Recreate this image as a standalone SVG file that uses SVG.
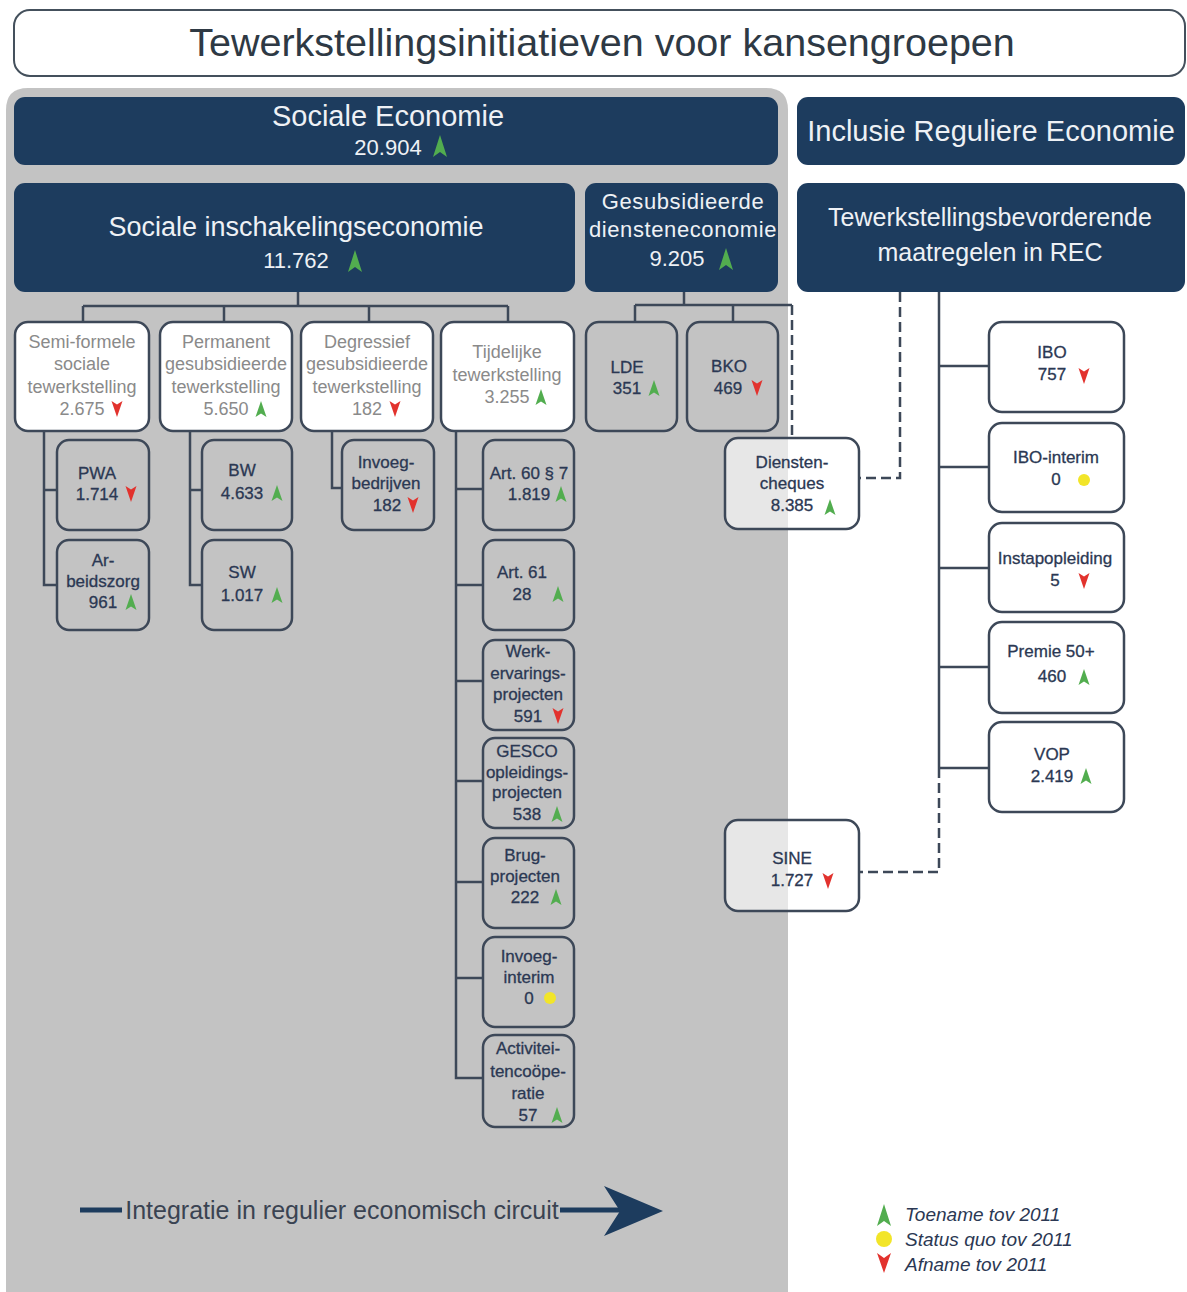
<svg xmlns="http://www.w3.org/2000/svg" xmlns:xlink="http://www.w3.org/1999/xlink" width="1187" height="1292" viewBox="0 0 1187 1292">
<style>
text{font-family:"Liberation Sans",Arial,sans-serif;text-anchor:middle}
.bar{fill:#1d3c5e}
.hw{fill:#eef1f5}
.wbox{fill:#fff;stroke:#3d4858;stroke-width:2.5}
.gbox{fill:#c3c3c3;stroke:#3d4858;stroke-width:2.5}
.tbox{fill:#fff;fill-opacity:.6;stroke:#3d4858;stroke-width:2.5}
.gt{fill:#8a8a8a;font-size:18px}
.dt{fill:#2b3853;font-size:17px;stroke:#2b3853;stroke-width:0.3}
.conn{stroke:#3d4858;stroke-width:2.5;fill:none}
.dash{stroke-dasharray:10 5}
.leg{fill:#2b3853;font-size:19px;font-style:italic;text-anchor:start}
</style>
<defs>
<path id="up" d="M0,-8 L5.5,8 L0,4.5 L-5.5,8 Z" fill="#52ad4f"/>
<path id="dn" d="M-5.5,-8 L0,-4.5 L5.5,-8 L0,8 Z" fill="#e2322d"/>
<circle id="eq" r="6" fill="#f2e529"/>
<path id="upL" d="M0,-11 L7,11 L0,6 L-7,11 Z" fill="#52ad4f"/>
<path id="dnL" d="M-7,-10 L0,-5 L7,-10 L0,10 Z" fill="#e2322d"/>
</defs>
<rect width="1187" height="1292" fill="#fff"/>

<g id="title">
<rect x="14" y="10" width="1171" height="66" rx="16" fill="#fff" stroke="#44505c" stroke-width="2"/>
<text x="602" y="56" font-size="39.5" fill="#2e3944">Tewerkstellingsinitiatieven voor kansengroepen</text>
</g>

<path id="panel" d="M6,110 Q6,88 28,88 L766,88 Q788,88 788,110 L788,1292 L6,1292 Z" fill="#c3c3c3"/>

<g id="connectors">
<path class="conn" d="M298,292 V306 M83,306 H508 M83,306 V322 M224,306 V322 M369,306 V322 M508,306 V322"/>
<path class="conn" d="M684,292 V305 M635,305 H792 M635,305 V322 M733,305 V322"/>
<path class="conn dash" d="M792,305 V438"/>
<path class="conn" d="M44,431 V585 H57 M44,490 H57"/>
<path class="conn" d="M190,431 V585 H202 M190,490 H202"/>
<path class="conn" d="M332,431 V488 H342"/>
<path class="conn" d="M456,431 V1078 H483 M456,489 H483 M456,585 H483 M456,681 H483 M456,781 H483 M456,882 H483 M456,978 H483"/>
<path class="conn" d="M939,292 V768 M939,366 H989 M939,467 H989 M939,568 H989 M939,667 H989 M939,768 H989"/>
<path class="conn dash" d="M939,768 V872 H860"/>
<path class="conn dash" d="M900,292 V478 H860"/>
</g>

<g id="sociale-economie">
<rect class="bar" x="14" y="97" width="764" height="68" rx="11"/>
<text class="hw" x="388" y="126" font-size="29">Sociale Economie</text>
<text class="hw" x="388" y="155" font-size="22">20.904</text>
<use href="#upL" x="440" y="146"/>
</g>

<g id="inclusie-reguliere-economie">
<rect class="bar" x="797" y="97" width="388" height="68" rx="11"/>
<text class="hw" x="991" y="141" font-size="29">Inclusie Reguliere Economie</text>
</g>

<g id="sociale-inschakelingseconomie">
<rect class="bar" x="14" y="183" width="561" height="109" rx="11"/>
<text class="hw" x="296" y="236" font-size="27">Sociale inschakelingseconomie</text>
<text class="hw" x="296" y="268" font-size="22">11.762</text>
<use href="#upL" x="355" y="261"/>
</g>

<g id="gesubsidieerde-diensteneconomie">
<rect class="bar" x="585" y="183" width="193" height="109" rx="11"/>
<text class="hw" x="683" y="209" font-size="22" letter-spacing="0.6">Gesubsidieerde</text>
<text class="hw" x="683" y="237" font-size="22" letter-spacing="0.6">diensteneconomie</text>
<text class="hw" x="677" y="266" font-size="22">9.205</text>
<use href="#upL" x="726" y="259"/>
</g>

<g id="tewerkstellingsbevorderende">
<rect class="bar" x="797" y="183" width="388" height="109" rx="11"/>
<text class="hw" x="990" y="226" font-size="25">Tewerkstellingsbevorderende</text>
<text class="hw" x="990" y="261" font-size="25">maatregelen in REC</text>
</g>

<g id="semi-formele">
<rect class="wbox" x="15" y="322" width="134" height="109" rx="13"/>
<text class="gt" x="82" y="348">Semi-formele</text>
<text class="gt" x="82" y="370">sociale</text>
<text class="gt" x="82" y="393">tewerkstelling</text>
<text class="gt" x="82" y="415">2.675</text>
<use href="#dn" x="117" y="409"/>
</g>

<g id="permanent">
<rect class="wbox" x="160" y="322" width="132" height="109" rx="13"/>
<text class="gt" x="226" y="348">Permanent</text>
<text class="gt" x="226" y="370">gesubsidieerde</text>
<text class="gt" x="226" y="393">tewerkstelling</text>
<text class="gt" x="226" y="415">5.650</text>
<use href="#up" x="261" y="409"/>
</g>

<g id="degressief">
<rect class="wbox" x="301" y="322" width="132" height="109" rx="13"/>
<text class="gt" x="367" y="348">Degressief</text>
<text class="gt" x="367" y="370">gesubsidieerde</text>
<text class="gt" x="367" y="393">tewerkstelling</text>
<text class="gt" x="367" y="415">182</text>
<use href="#dn" x="395" y="409"/>
</g>

<g id="tijdelijke">
<rect class="wbox" x="441" y="322" width="133" height="109" rx="13"/>
<text class="gt" x="507" y="358">Tijdelijke</text>
<text class="gt" x="507" y="381">tewerkstelling</text>
<text class="gt" x="507" y="403">3.255</text>
<use href="#up" x="541" y="397"/>
</g>

<g id="lde">
<rect class="gbox" x="586" y="322" width="91" height="109" rx="13"/>
<text class="dt" x="627" y="373">LDE</text>
<text class="dt" x="627" y="394">351</text>
<use href="#up" x="654" y="388"/>
</g>

<g id="bko">
<rect class="gbox" x="687" y="322" width="91" height="109" rx="13"/>
<text class="dt" x="729" y="372">BKO</text>
<text class="dt" x="728" y="394">469</text>
<use href="#dn" x="757" y="388"/>
</g>

<g id="pwa">
<rect class="gbox" x="57" y="440" width="92" height="90" rx="12"/>
<text class="dt" x="97" y="479">PWA</text>
<text class="dt" x="97" y="500">1.714</text>
<use href="#dn" x="131" y="494"/>
</g>

<g id="arbeidszorg">
<rect class="gbox" x="57" y="540" width="92" height="90" rx="12"/>
<text class="dt" x="103" y="566">Ar-</text>
<text class="dt" x="103" y="587">beidszorg</text>
<text class="dt" x="103" y="608">961</text>
<use href="#up" x="131" y="602"/>
</g>

<g id="bw">
<rect class="gbox" x="202" y="440" width="90" height="90" rx="12"/>
<text class="dt" x="242" y="476">BW</text>
<text class="dt" x="242" y="499">4.633</text>
<use href="#up" x="277" y="493"/>
</g>

<g id="sw">
<rect class="gbox" x="202" y="540" width="90" height="90" rx="12"/>
<text class="dt" x="242" y="578">SW</text>
<text class="dt" x="242" y="601">1.017</text>
<use href="#up" x="277" y="595"/>
</g>

<g id="invoegbedrijven">
<rect class="gbox" x="342" y="440" width="92" height="90" rx="12"/>
<text class="dt" x="386" y="468">Invoeg-</text>
<text class="dt" x="386" y="489">bedrijven</text>
<text class="dt" x="387" y="511">182</text>
<use href="#dn" x="413" y="505"/>
</g>

<g id="art60">
<rect class="gbox" x="483" y="440" width="91" height="90" rx="12"/>
<text class="dt" x="529" y="479">Art. 60 § 7</text>
<text class="dt" x="529" y="500">1.819</text>
<use href="#up" x="561" y="494"/>
</g>

<g id="art61">
<rect class="gbox" x="483" y="540" width="91" height="90" rx="12"/>
<text class="dt" x="522" y="578">Art. 61</text>
<text class="dt" x="522" y="600">28</text>
<use href="#up" x="558" y="594"/>
</g>

<g id="werkervaringsprojecten">
<rect class="gbox" x="483" y="640" width="91" height="90" rx="12"/>
<text class="dt" x="528" y="657">Werk-</text>
<text class="dt" x="528" y="679">ervarings-</text>
<text class="dt" x="528" y="700">projecten</text>
<text class="dt" x="528" y="722">591</text>
<use href="#dn" x="558" y="716"/>
</g>

<g id="gesco">
<rect class="gbox" x="483" y="738" width="91" height="90" rx="12"/>
<text class="dt" x="527" y="757">GESCO</text>
<text class="dt" x="527" y="778">opleidings-</text>
<text class="dt" x="527" y="798">projecten</text>
<text class="dt" x="527" y="820">538</text>
<use href="#up" x="557" y="814"/>
</g>

<g id="brugprojecten">
<rect class="gbox" x="483" y="838" width="91" height="90" rx="12"/>
<text class="dt" x="525" y="861">Brug-</text>
<text class="dt" x="525" y="882">projecten</text>
<text class="dt" x="525" y="903">222</text>
<use href="#up" x="556" y="897"/>
</g>

<g id="invoeginterim">
<rect class="gbox" x="483" y="937" width="91" height="90" rx="12"/>
<text class="dt" x="529" y="962">Invoeg-</text>
<text class="dt" x="529" y="983">interim</text>
<text class="dt" x="529" y="1004">0</text>
<use href="#eq" x="550" y="998"/>
</g>

<g id="activiteitencooperatie">
<rect class="gbox" x="483" y="1035" width="91" height="92" rx="12"/>
<text class="dt" x="528" y="1054">Activitei-</text>
<text class="dt" x="528" y="1077">tencoöpe-</text>
<text class="dt" x="528" y="1099">ratie</text>
<text class="dt" x="528" y="1121">57</text>
<use href="#up" x="557" y="1115"/>
</g>

<g id="dienstencheques">
<rect class="tbox" x="725" y="438" width="134" height="91" rx="13"/>
<text class="dt" x="792" y="468">Diensten-</text>
<text class="dt" x="792" y="489">cheques</text>
<text class="dt" x="792" y="511">8.385</text>
<use href="#up" x="830" y="507"/>
</g>

<g id="sine">
<rect class="tbox" x="725" y="820" width="134" height="91" rx="13"/>
<text class="dt" x="792" y="864">SINE</text>
<text class="dt" x="792" y="886">1.727</text>
<use href="#dn" x="828" y="881"/>
</g>

<g id="ibo">
<rect class="wbox" x="989" y="322" width="135" height="90" rx="13"/>
<text class="dt" x="1052" y="358">IBO</text>
<text class="dt" x="1052" y="380">757</text>
<use href="#dn" x="1084" y="376"/>
</g>

<g id="ibo-interim">
<rect class="wbox" x="989" y="423" width="135" height="89" rx="13"/>
<text class="dt" x="1056" y="463">IBO-interim</text>
<text class="dt" x="1056" y="485">0</text>
<use href="#eq" x="1084" y="480"/>
</g>

<g id="instapopleiding">
<rect class="wbox" x="989" y="523" width="135" height="89" rx="13"/>
<text class="dt" x="1055" y="564">Instapopleiding</text>
<text class="dt" x="1055" y="586">5</text>
<use href="#dn" x="1084" y="581"/>
</g>

<g id="premie50">
<rect class="wbox" x="989" y="622" width="135" height="91" rx="13"/>
<text class="dt" x="1051" y="657">Premie 50+</text>
<text class="dt" x="1052" y="682">460</text>
<use href="#up" x="1084" y="677"/>
</g>

<g id="vop">
<rect class="wbox" x="989" y="722" width="135" height="90" rx="13"/>
<text class="dt" x="1052" y="760">VOP</text>
<text class="dt" x="1052" y="782">2.419</text>
<use href="#up" x="1086" y="776"/>
</g>

<g id="integratie-arrow">
<line x1="80" y1="1210" x2="122" y2="1210" stroke="#1d3c5e" stroke-width="5"/>
<text x="342" y="1219" font-size="25" fill="#3a4352">Integratie in regulier economisch circuit</text>
<line x1="560" y1="1210" x2="622" y2="1210" stroke="#1d3c5e" stroke-width="5"/>
<polygon points="604,1186 663,1211 604,1236 620,1211" fill="#1d3c5e"/>
</g>

<g id="legend">
<use href="#upL" x="884" y="1215"/>
<text class="leg" x="905" y="1221">Toename tov 2011</text>
<circle cx="884" cy="1239" r="8" fill="#f2e529"/>
<text class="leg" x="905" y="1246">Status quo tov 2011</text>
<use href="#dnL" x="884" y="1263"/>
<text class="leg" x="905" y="1271">Afname tov 2011</text>
</g>
</svg>
